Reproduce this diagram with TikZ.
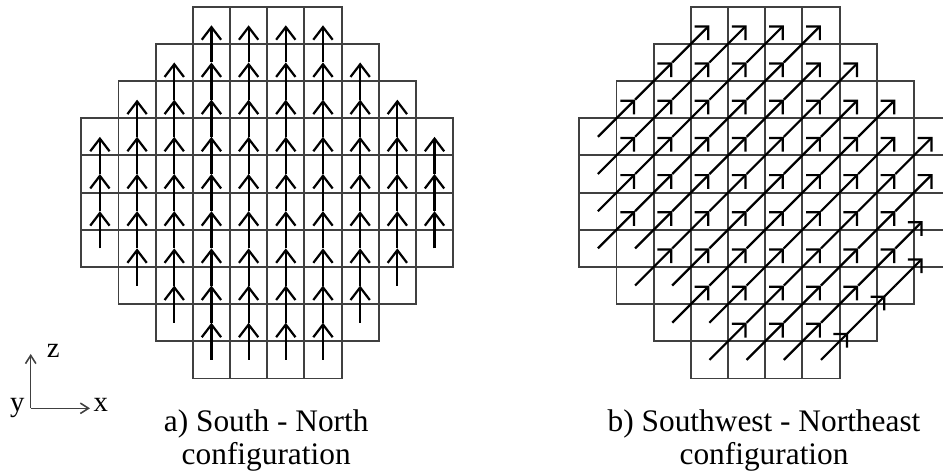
\documentclass[tikz,border=0pt]{standalone}
\usepackage{fontspec}
\setmainfont{Liberation Serif}
\usetikzlibrary{arrows.meta,decorations.markings}
\pgfdeclarelayer{background}
\pgfsetlayers{background,main}

\tikzset{
  uptip/.tip={Straight Barb[length=0.34cm,width=0.52cm]},
  netip/.tip={Straight Barb[length=0.26cm,width=0.52cm]},
  axtip/.tip={Straight Barb[length=0.22cm,width=0.28cm]},
  cell/.style={draw=black!75,line width=1.45pt,minimum size=1cm,inner sep=0pt},
  upflow/.style={line width=1.7pt,-uptip},
  neflow/.style={line width=1.7pt,-netip},
  nelate/.style={line width=1.7pt,postaction={decorate},
    decoration={markings,mark=at position #1 with {\arrow{netip}}}},
  axis/.style={line width=1.2pt,draw=black!75,-axtip},
  axlabel/.style={font=\fontsize{22}{22}\selectfont,inner sep=1pt},
  caption/.style={align=center,font=\fontsize{24}{25.5}\selectfont}
}

\begin{document}
\begin{tikzpicture}
\useasboundingbox (0,0) rectangle (25.363,-12.749);
% cells of both cores
\begin{pgfonlayer}{background}
\foreach \r/\w in {1/2,2/3,3/4,4/5,5/5,6/5,7/5,8/4,9/3,10/2} {
  \pgfmathtruncatemacro\cmin{5-\w}
  \pgfmathtruncatemacro\cmax{4+\w}
  \foreach \c in {\cmin,...,\cmax} {
    \node[cell] (a-\r-\c) at (2.687+\c,0.32-\r) {};
    \node[cell] (b-\r-\c) at (16.081+\c,0.32-\r) {};
  }
}
\end{pgfonlayer}

% a) south - north
\foreach \c/\t in {0/4,1/3,2/2,3/1,4/1,5/1,6/1,7/2,8/3,9/4} {
  \pgfmathtruncatemacro\b{10-\t}
  \foreach \r in {\t,...,\b} {
    \pgfmathtruncatemacro\s{\r+1}
    \draw[upflow] (a-\s-\c.center) -- (a-\r-\c.center);
  }
}

% b) southwest - northeast
\foreach \r/\c/\n in {4/0/3,5/0/4,6/0/5,7/0/6,7/1/5,8/1/6,8/2/5,9/2/6,9/3/5,10/3/6,10/4/5,10/5/3} {
  \foreach \k in {1,...,\n} {
    \pgfmathtruncatemacro\ra{\r-\k+1}
    \pgfmathtruncatemacro\ca{\c+\k-1}
    \pgfmathtruncatemacro\rb{\r-\k}
    \pgfmathtruncatemacro\cb{\c+\k}
    \draw[neflow] (b-\ra-\ca.center) -- (b-\rb-\cb.center);
  }
}
\draw[nelate=0.73] (b-10-6.center) -- (b-9-7.center);
\draw[nelate=0.73] (b-9-7.center) -- (b-8-8.center);
\draw[neflow,shorten >=0.38cm] (b-8-8.center) -- (b-7-9.center);
\draw[neflow,shorten >=0.38cm] (b-7-8.center) -- (b-6-9.center);

% axes
\coordinate (o) at (0.826,-10.982);
\coordinate (xtip) at (2.42,-10.982);
\coordinate (ztip) at (0.826,-9.52);
\draw[axis] (o) -- (xtip);
\draw[axis] (o) -- (ztip);
\node[axlabel,anchor=mid west] (xl) at (2.475,-10.982) {x};
\node[axlabel,anchor=mid east] (yl) at (0.70,-10.982) {y};
\node[axlabel,anchor=mid west] (zl) at (1.22,-9.53) {z};

% captions
\node[caption,anchor=base] (capa) at (7.16,-12.5) {a) South - North\\configuration};
\node[caption,anchor=base] (capb) at (20.55,-12.5) {b) Southwest - Northeast\\configuration};
\end{tikzpicture}
\end{document}
